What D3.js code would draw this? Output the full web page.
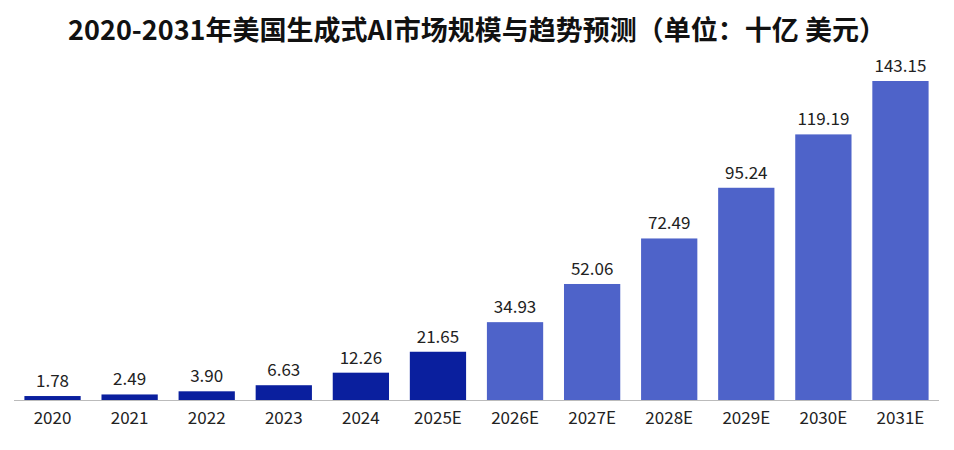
<!DOCTYPE html>
<html><head><meta charset="utf-8">
<script src="https://cdn.jsdelivr.net/npm/d3@7"></script>
<style>body{margin:0;background:#fff}</style>
</head><body>
<svg id="root" width="954" height="450"></svg>
<script>
const years = ['2020','2021','2022','2023','2024','2025E','2026E','2027E','2028E','2029E','2030E','2031E'];
const values = [1.78, 2.49, 3.90, 6.63, 12.26, 21.65, 34.93, 52.06, 72.49, 95.24, 119.19, 143.15];
const labels = ['1.78','2.49','3.90','6.63','12.26','21.65','34.93','52.06','72.49','95.24','119.19','143.15'];

const svg = d3.select('#root');
const font = '"Noto Sans CJK SC", "Noto Sans", sans-serif';

svg.append('text')
  .attr('x', 477).attr('y', 40)
  .attr('text-anchor', 'middle')
  .attr('font-family', font).attr('font-size', 27).attr('font-weight', 'bold')
  .attr('fill', '#111')
  .text('2020-2031年美国生成式AI市场规模与趋势预测（单位：十亿 美元）');

const x = d3.scaleBand().domain(years).range([14, 939]).paddingInner(0.27).paddingOuter(0.135);
const y = d3.scaleLinear().domain([0, 143.15]).range([400, 81]);

svg.selectAll('.bar').data(values).enter().append('rect')
  .attr('x', (d, i) => x(years[i]))
  .attr('y', d => y(d))
  .attr('width', x.bandwidth())
  .attr('height', d => 400 - y(d))
  .attr('fill', (d, i) => years[i].endsWith('E') && i > 5 ? '#4e63c9' : '#0a1f9e');

svg.selectAll('.val').data(values).enter().append('text')
  .attr('x', (d, i) => x(years[i]) + x.bandwidth() / 2)
  .attr('y', d => y(d) - 9)
  .attr('text-anchor', 'middle')
  .attr('font-family', font).attr('font-size', 17).attr('fill', '#222')
  .text((d, i) => labels[i]);

svg.append('line').attr('x1', 14).attr('x2', 939).attr('y1', 400.5).attr('y2', 400.5)
  .attr('stroke', '#bbb');

const ax = svg.append('g').attr('transform', 'translate(0,400)')
  .call(d3.axisBottom(x).tickSize(0).tickPadding(12));
ax.select('.domain').remove();
ax.selectAll('text').attr('font-family', font).attr('font-size', 17).attr('fill', '#222');
</script>
</body></html>
